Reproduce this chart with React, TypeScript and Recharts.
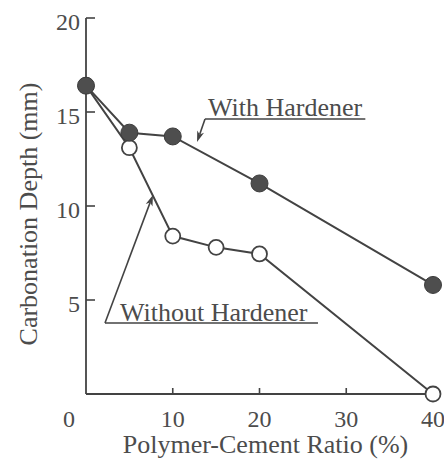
import React from "react";
import { LineChart, Line, XAxis, YAxis, ReferenceLine, ReferenceDot } from "recharts";

// Polymer-cement ratio (%) for each specimen group
const ratios = [0, 5, 10, 15, 20, 40];
// Carbonation depth (mm), with hardener (no 15 % specimen)
const withHardener: (number | null)[] = [16.4, 13.9, 13.7, null, 11.2, 5.8];
// Carbonation depth (mm), without hardener
const withoutHardener: (number | null)[] = [16.4, 13.1, 8.4, 7.8, 7.45, 0];

const xTicks = [0, 10, 20, 30, 40];
const yTicks = [5, 10, 15, 20];

const data = ratios.map((r, i) => ({
  ratio: r,
  withH: withHardener[i],
  withoutH: withoutHardener[i],
}));

const INK = "#434343";
const TEXT = "#4c4c4c";
const FONT = "Liberation Serif";

const XTick = (props: any) => {
  const { x, y, payload } = props;
  const v = payload.value;
  const showMark = v !== 0 && v !== 40;
  return (
    <g>
      {showMark && <line x1={x} y1={y} x2={x} y2={y - 6} stroke={INK} strokeWidth={1.6} />}
      <text
        x={v === 0 ? x - 17 : x}
        y={y + 33}
        textAnchor="middle"
        fontFamily={FONT}
        fontSize={24}
        fill={TEXT}
      >
        {v}
      </text>
    </g>
  );
};

const YTick = (props: any) => {
  const { x, y, payload } = props;
  return (
    <g>
      <line x1={x} y1={y} x2={x + 9} y2={y} stroke={INK} strokeWidth={1.6} />
      <text x={x - 6} y={y + 12} textAnchor="end" fontFamily={FONT} fontSize={24} fill={TEXT}>
        {payload.value}
      </text>
    </g>
  );
};

// Leader line ending in a filled arrowhead at (x2, y2)
const Leader = (props: any) => {
  const { x1, y1, x2, y2 } = props;
  const dx = x2 - x1;
  const dy = y2 - y1;
  const len = Math.hypot(dx, dy) || 1;
  const ux = dx / len;
  const uy = dy / len;
  const L = 11;
  const W = 3.6;
  const bx = x2 - ux * L;
  const by = y2 - uy * L;
  const pts = `${x2},${y2} ${bx - uy * W},${by + ux * W} ${bx + ux * 3},${by + uy * 3} ${bx + uy * W},${by - ux * W}`;
  return (
    <g>
      <line x1={x1} y1={y1} x2={bx + ux * 3} y2={by + uy * 3} stroke={INK} strokeWidth={1.6} />
      <polygon points={pts} fill={INK} />
    </g>
  );
};

const Underline = (props: any) => {
  const { x1, y1, x2, y2 } = props;
  return <line x1={x1} y1={y1} x2={x2} y2={y2} stroke={INK} strokeWidth={1.6} />;
};

const makeLabel = (text: string) => (props: any) => {
  const { cx, cy } = props;
  return (
    <text x={cx} y={cy} fontFamily={FONT} fontSize={26} fill={TEXT}>
      {text}
    </text>
  );
};

// Axis titles drawn as plain SVG text
const XTitle = (props: any) => {
  const { viewBox } = props;
  const cx = viewBox.x + viewBox.width / 2 + 6;
  return (
    <text x={cx} y={453} textAnchor="middle" fontFamily={FONT} fontSize={26} fill={TEXT}>
      Polymer-Cement Ratio (%)
    </text>
  );
};

const YTitle = (props: any) => {
  const { viewBox } = props;
  const cy = viewBox.y + viewBox.height / 2 + 8;
  const cx = 37;
  return (
    <text
      x={cx}
      y={cy}
      transform={`rotate(-90, ${cx}, ${cy})`}
      textAnchor="middle"
      fontFamily={FONT}
      fontSize={26}
      fill={TEXT}
    >
      Carbonation Depth (mm)
    </text>
  );
};

const FilledDot = (props: any) => {
  const { cx, cy, value } = props;
  if (value == null || cx == null || cy == null) return <g />;
  return <circle cx={cx} cy={cy} r={8.5} fill="#4e4e4e" stroke="#3c3c3c" strokeWidth={1} />;
};

const OpenDot = (props: any) => {
  const { cx, cy, value } = props;
  if (value == null || cx == null || cy == null) return <g />;
  return <circle cx={cx} cy={cy} r={7.5} fill="#ffffff" stroke={INK} strokeWidth={1.8} />;
};

export default function App() {
  return (
    <div style={{ position: "absolute", left: 0, top: 0, width: 444, height: 459, background: "#fff" }}>
      <LineChart
        width={444}
        height={459}
        data={data}
        margin={{ top: 18, right: 11, left: 0, bottom: 0 }}
      >
        <XAxis
          dataKey="ratio"
          type="number"
          domain={[0, 40]}
          ticks={xTicks}
          height={65}
          tickSize={0}
          tickMargin={0}
          tickLine={false}
          axisLine={{ stroke: INK, strokeWidth: 1.8 }}
          tick={<XTick />}
          interval={0}
          label={<XTitle />}
        />
        <YAxis
          type="number"
          domain={[0, 20]}
          ticks={yTicks}
          width={86}
          tickSize={0}
          tickMargin={0}
          tickLine={false}
          axisLine={{ stroke: INK, strokeWidth: 1.8 }}
          tick={<YTick />}
          interval={0}
          label={<YTitle />}
        />

        <Line
          dataKey="withoutH"
          stroke={INK}
          strokeWidth={2}
          connectNulls
          dot={<OpenDot />}
          activeDot={false}
          isAnimationActive={false}
        />
        <Line
          dataKey="withH"
          stroke={INK}
          strokeWidth={2}
          connectNulls
          dot={<FilledDot />}
          activeDot={false}
          isAnimationActive={false}
        />

        {/* "With Hardener" callout */}
        <ReferenceLine
          segment={[{ x: 13.72, y: 14.63 }, { x: 32.2, y: 14.63 }]}
          shape={<Underline />}
          ifOverflow="visible"
        />
        <ReferenceLine
          segment={[{ x: 13.72, y: 14.63 }, { x: 12.8, y: 13.4 }]}
          shape={<Leader />}
          ifOverflow="visible"
        />
        <ReferenceDot x={14.06} y={14.78} r={0} shape={makeLabel("With Hardener")} ifOverflow="visible" />

        {/* "Without Hardener" callout */}
        <ReferenceLine
          segment={[{ x: 2.19, y: 3.78 }, { x: 26.74, y: 3.78 }]}
          shape={<Underline />}
          ifOverflow="visible"
        />
        <ReferenceLine
          segment={[{ x: 2.19, y: 3.78 }, { x: 7.72, y: 10.59 }]}
          shape={<Leader />}
          ifOverflow="visible"
        />
        <ReferenceDot x={3.92} y={3.88} r={0} shape={makeLabel("Without Hardener")} ifOverflow="visible" />
      </LineChart>
    </div>
  );
}
